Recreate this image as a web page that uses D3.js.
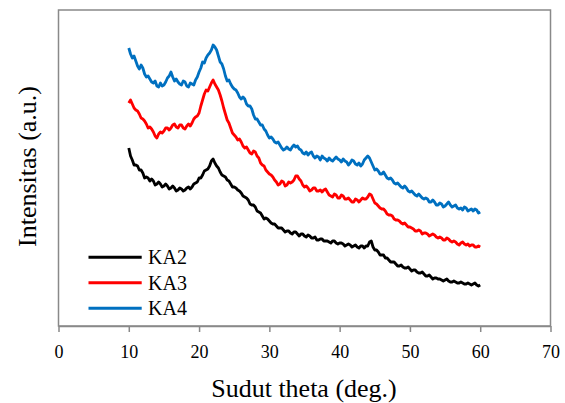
<!DOCTYPE html>
<html><head><meta charset="utf-8">
<script src="https://cdn.jsdelivr.net/npm/d3@7"></script>
<style>body{margin:0;background:#fff}</style>
</head><body>
<svg id="chart" width="565" height="403"></svg>
<script>
const seriesNames = ["KA2", "KA3", "KA4"];
const seriesColors = ["#000000", "#ff0000", "#0070c0"];
const xTicks = [0, 10, 20, 30, 40, 50, 60, 70];
// 2-theta from 10 to 60 deg, step 0.25
const angles = d3.range(0, 201).map(i => 10 + i * 0.25);
const ka2 = [178,170,166,161,161,160,156,156,153,148,
149,148,145,147,145,141,142,144,142,139,
140,142,140,137,138,140,138,135,136,138,
137,135,136,138,139,137,139,142,143,144,
148,148,151,155,156,157,160,165,167,163,
160,158,154,151,150,149,146,145,142,139,
139,138,136,135,133,130,129,128,126,122,
121,121,119,115,114,113,110,107,108,107,
105,103,102,102,100,98,98,98,96,94,
95,95,93,92,94,94,92,90,92,92,
90,89,91,90,88,88,89,86,86,87,
87,85,85,85,84,83,85,85,83,82,
83,83,82,80,81,82,81,79,80,81,
79,78,80,80,78,80,80,84,85,79,
76,76,74,71,71,71,68,68,66,64,
64,64,62,60,60,61,59,58,58,59,
57,55,56,56,54,53,53,54,52,50,
50,51,49,47,48,48,47,47,46,45,
46,47,45,44,44,45,44,43,43,44,
43,42,42,43,42,41,42,43,41,40,
41];
const ka3 = [223,226,222,218,216,215,212,208,207,205,
202,198,199,197,194,190,188,192,194,193,
195,198,198,196,198,201,202,199,198,201,
201,198,197,200,202,200,203,207,209,210,
213,220,226,232,236,235,239,243,246,242,
239,236,231,225,218,212,206,203,198,193,
191,189,186,187,184,180,178,179,176,173,
172,175,174,170,168,163,161,160,156,154,
152,151,149,146,144,141,142,145,144,140,
141,144,143,144,146,150,150,147,145,141,
139,140,138,135,136,138,138,135,135,136,
134,136,137,134,131,130,129,132,131,128,
128,131,130,127,127,128,126,124,124,127,
126,124,126,128,127,127,129,132,131,127,
123,122,120,118,117,117,115,112,111,111,
110,107,106,106,105,103,102,103,101,99,
99,98,97,95,95,96,95,92,93,93,
92,90,91,92,91,89,88,89,88,86,
86,88,87,85,84,85,84,82,81,83,
84,82,81,82,80,81,81,79,79,80,
79];
const ka4 = [278,272,268,270,265,260,257,261,258,252,
249,250,247,244,243,245,240,239,243,240,
241,244,248,250,254,249,245,247,244,242,
241,245,244,240,239,243,242,241,246,249,
254,258,264,263,268,271,273,276,281,279,
276,270,264,262,257,250,245,246,242,239,
237,236,233,229,227,229,227,222,220,220,
217,211,207,207,204,201,201,197,195,191,
188,189,187,184,183,184,181,178,176,177,
179,177,176,179,181,179,180,177,176,173,
172,174,171,173,174,170,168,170,169,166,
170,168,167,165,168,166,165,167,169,167,
166,164,167,165,164,161,163,166,165,162,
161,163,160,162,166,168,170,168,164,160,
156,157,155,152,152,154,151,148,147,148,
146,143,142,143,141,139,138,140,138,135,
134,135,133,131,130,132,130,128,127,128,
127,124,124,126,124,121,121,123,122,119,
120,122,124,121,119,120,121,118,117,118,
116,119,118,115,116,117,115,117,116,113,
114];
const seriesValues = [ka2, ka3, ka4];

const svg = d3.select("#chart");
const L = 58.5, R = 550.5, T = 10, B = 326;
const x = d3.scaleLinear().domain([0, 70]).range([L, R]);
const y = d3.scaleLinear().domain([0, 316]).range([B, T]);
const serif = "Liberation Serif, Times New Roman, serif";

// frame
svg.append("rect").attr("x", L).attr("y", T).attr("width", R - L).attr("height", B - T)
  .attr("fill", "none").attr("stroke", "#898989").attr("stroke-width", 1.5);

// x axis
const xAxis = d3.axisBottom(x).tickValues(xTicks).tickSize(6).tickSizeOuter(0);
const gx = svg.append("g").attr("transform", `translate(0,${B})`).call(xAxis);
gx.select(".domain").attr("stroke", "#898989").attr("stroke-width", 1.5);
gx.selectAll(".tick line").attr("stroke", "#898989").attr("stroke-width", 1.5);
gx.selectAll(".tick text").attr("font-family", serif).attr("font-size", 18)
  .attr("fill", "#000").attr("y", 32).attr("dy", 0);

// axis titles
svg.append("text").attr("x", 304).attr("y", 397).attr("text-anchor", "middle")
  .attr("font-family", serif).attr("font-size", 26)
  .text("Sudut theta (deg.)");
svg.append("text").attr("transform", `translate(36,166.5) rotate(-90)`)
  .attr("text-anchor", "middle")
  .attr("font-family", serif).attr("font-size", 26)
  .text("Intensitas (a.u.)");

// lines
const line = d3.line().x((d, i) => x(angles[i])).y(d => y(d));
seriesValues.forEach((vals, k) => {
  svg.append("path").datum(vals).attr("d", line)
    .attr("fill", "none").attr("stroke", seriesColors[k]).attr("stroke-width", 2.8)
    .attr("stroke-linejoin", "round");
});

// legend
const legY = [257.3, 282.7, 308.3];
seriesNames.forEach((n, k) => {
  svg.append("line").attr("x1", 88.5).attr("x2", 141.7).attr("y1", legY[k]).attr("y2", legY[k])
    .attr("stroke", seriesColors[k]).attr("stroke-width", 3);
  svg.append("text").attr("x", 148).attr("y", legY[k] + 7)
    .attr("font-family", serif).attr("font-size", 20)
    .text(n);
});
</script>
</body></html>
